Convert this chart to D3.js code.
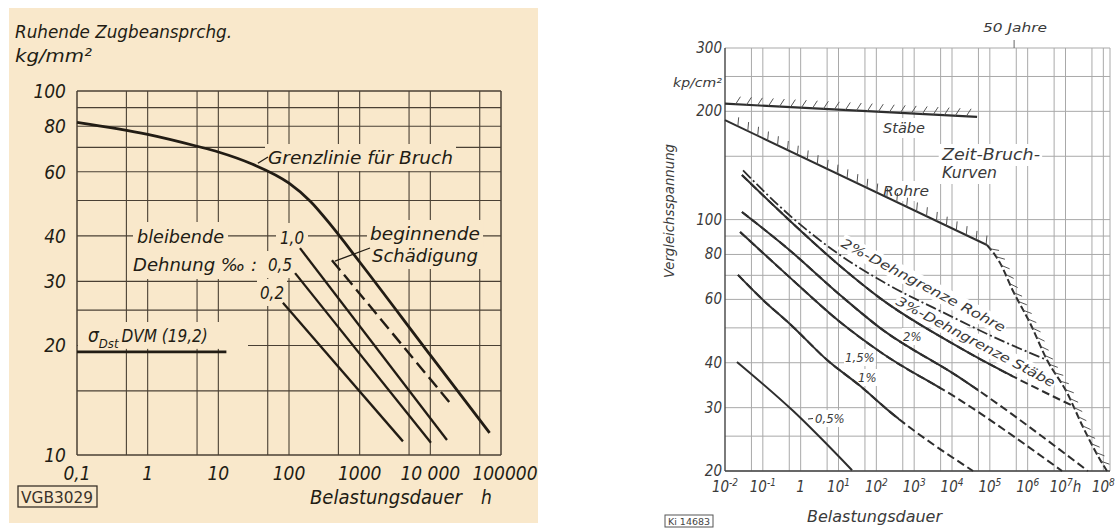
<!DOCTYPE html>
<html><head><meta charset="utf-8">
<script src="https://cdn.jsdelivr.net/npm/d3@7/dist/d3.min.js"></script>
<style>
html,body{margin:0;padding:0;background:#fff;}
svg{display:block;}
</style></head><body>
<svg id="chart" width="1119" height="529"></svg>
<script>
// ================= LEFT CHART DATA (VGB 3029) =================
const leftYTicks = [100, 80, 60, 40, 30, 20, 10];
const leftXTicks = [0.1, 1, 10, 100, 1000, 10000, 100000];
const leftXTickLabels = ["0,1", "1", "10", "100", "1000", "10 000", "100000"];
const leftXGrid = [0.1, 0.5, 1, 5, 10, 50, 100, 500, 1000, 5000, 10000, 50000, 100000];
const leftYGrid = [100, 90, 80, 70, 60, 50, 40, 30, 25, 20, 15, 10];
// Grenzlinie für Bruch
const bruchHours  = [0.1, 1, 5, 10, 30, 100, 200, 400, 1000, 10000, 69000];
const bruchStress = [82, 76, 70.5, 68, 63, 55.8, 49.8, 42.6, 33.9, 18.8, 11.5];
// bleibende Dehnung ‰ lines
const strainLabels = ["0,2", "0,5", "1,0"];
const strainHours  = [[82, 4100], [122, 10200], [143, 17200]];
const strainStress = [[26.2, 10.9], [31.6, 10.8], [37, 11.0]];
// beginnende Schädigung (dashed)
const damageHours  = [405, 20200];
const damageStress = [34.3, 13.7];
// σDst DVM (19,2)
const dvmHours  = [0.1, 13];
const dvmStress = [19.2, 19.2];

// ================= RIGHT CHART DATA =================
const rightYTicks = [300, 200, 100, 80, 60, 40, 30, 20];
const rightXTicks = [1e-2, 1e-1, 1, 10, 100, 1e3, 1e4, 1e5, 1e6, 1e7, 1e8];
const rightXTickBase = ["10", "10", "1", "10", "10", "10", "10", "10", "10", "10", "10"];
const rightXTickExp  = ["-2", "-1", "", "1", "2", "3", "4", "5", "6", "7", "8"];
const rightXTickSuffix = ["", "", "", "", "", "", "", "", "", "h", ""];
const rightXGrid = [5e-2, 1e-1, 5e-1, 1, 5, 10, 50, 100, 500, 1e3, 5e3, 1e4, 5e4, 1e5, 5e5, 1e6, 5e6, 1e7, 5e7, 1e8];
const rightYGrid = [300, 250, 200, 150, 100, 90, 80, 70, 60, 50, 40, 30, 25, 20];
const fiftyYears = 4.38e5;
// Zeit-Bruch-Kurven
const staebeHours  = [0.01, 4.6e4];
const staebeStress = [210, 193];
const rohreHours   = [0.01, 8.4e4];
const rohreStress  = [189, 85];
const zeitBruchHours  = [8.4e4, 1.86e5, 4.1e5, 1.15e6, 3.25e6, 1.1e7, 2.9e7, 8.2e7, 1.25e8];
const zeitBruchStress = [85, 75.8, 63.3, 51.6, 40.7, 33, 26.5, 21.5, 20];
// 2%-Dehngrenze Rohre (dash-dot)
const rohre2Hours  = [0.03, 0.435, 11, 125, 8900, 1.86e5, 3.25e6];
const rohre2Stress = [137, 104.3, 79.7, 67.9, 54.0, 46.3, 40.7];
// Dehngrenzen Stäbe
const strainNames = ["3%", "2%", "1,5%", "1%", "0,5%"];
const strainCurveHours = [
  [0.028, 0.435, 11, 125, 16300, 1.4e7],
  [0.028, 0.435, 11, 125, 16300, 3.9e7],
  [0.025, 0.435, 11, 125, 16300, 8.1e6],
  [0.022, 0.084, 0.63, 5, 37, 230, 36000],
  [0.0207, 0.627, 22.8]
];
const strainCurveStress = [
  [133, 101, 74.3, 60.5, 44.0, 30.5],
  [105, 83.4, 61.7, 50.0, 36.3, 20],
  [92.4, 70.2, 51.9, 42.9, 31.5, 20],
  [70.2, 60.9, 50.3, 40.7, 34.5, 29.2, 20],
  [40.2, 29.4, 20.1]
];
const strainDashFrom = [4e5, 5e4, 5000, 400, null];

// ================= DRAWING =================
const svg = d3.select('#chart');
const defs = svg.append('defs');
const gBg = svg.append('g'), gGrid = svg.append('g'), gMask = svg.append('g'),
      gCurve = svg.append('g'), gText = svg.append('g');

const LBG = '#f9e8cb', LINK = '#221c14', LGRID = '#4a4034';
const RINK = '#2e2e2e', RGRID = '#a9a9a9', RTXT = '#3a3a3a';
const FONT_L = "'DejaVu Sans Condensed','DejaVu Sans',sans-serif";
const FONT_R = "'Liberation Sans Narrow','DejaVu Sans Condensed',sans-serif";

function txt(o) {
  const t = gText.append('text').attr('x', o.x).attr('y', o.y)
    .attr('font-size', o.size || 16).attr('fill', o.fill || LINK)
    .attr('font-family', o.family || FONT_L)
    .attr('font-style', o.italic === false ? 'normal' : 'italic')
    .attr('text-anchor', o.anchor || 'start').text(o.text);
  if (o.len) t.attr('textLength', o.len).attr('lengthAdjust', 'spacingAndGlyphs');
  const tr = o.rotate != null ? `rotate(${o.rotate},${o.x},${o.y})` : null;
  if (tr) t.attr('transform', tr);
  if (o.mask) {
    const b = t.node().getBBox(), p = o.pad == null ? 2 : o.pad;
    const r = gMask.append('rect').attr('x', b.x - p).attr('y', b.y - p)
      .attr('width', b.width + 2 * p).attr('height', b.height + 2 * p).attr('fill', o.mask);
    if (tr) r.attr('transform', tr);
  }
  return t;
}

// ---------- LEFT ----------
gBg.append('rect').attr('x', 9).attr('y', 8).attr('width', 529).attr('height', 515).attr('fill', LBG);
const lx = d3.scaleLog().domain([0.1, 1e5]).range([77, 501]);
const ly = d3.scaleLog().domain([10, 100]).range([455, 91]);

gGrid.selectAll('line.lv').data(leftXGrid).join('line').attr('class', 'lv')
  .attr('x1', d => lx(d)).attr('x2', d => lx(d)).attr('y1', ly(100)).attr('y2', ly(10))
  .attr('stroke', LGRID).attr('stroke-width', d => (d === 0.1 || d === 1e5) ? 1.5 : 1.1);
gGrid.selectAll('line.lh').data(leftYGrid).join('line').attr('class', 'lh')
  .attr('x1', lx(0.1)).attr('x2', lx(1e5)).attr('y1', d => ly(d)).attr('y2', d => ly(d))
  .attr('stroke', LGRID).attr('stroke-width', d => (d === 10 || d === 100) ? 1.5 : 1.1);

const lLine = d3.line().x(d => lx(d[0])).y(d => ly(d[1]));
gCurve.append('path').datum(d3.zip(bruchHours, bruchStress))
  .attr('d', d3.line().x(d => lx(d[0])).y(d => ly(d[1])).curve(d3.curveMonotoneX)).attr('fill', 'none')
  .attr('stroke', LINK).attr('stroke-width', 2.8);
strainHours.forEach((h, i) => {
  gCurve.append('path').datum(d3.zip(h, strainStress[i])).attr('d', lLine)
    .attr('fill', 'none').attr('stroke', LINK).attr('stroke-width', 2.3);
});
gCurve.append('path').datum(d3.zip(damageHours, damageStress)).attr('d', lLine)
  .attr('fill', 'none').attr('stroke', LINK).attr('stroke-width', 2.4).attr('stroke-dasharray', '13 6');
gCurve.append('path').datum(d3.zip(dvmHours, dvmStress)).attr('d', lLine)
  .attr('fill', 'none').attr('stroke', LINK).attr('stroke-width', 2.8);

// left texts
txt({x: 15, y: 38, text: 'Ruhende Zugbeansprchg.', size: 18, len: 217});
txt({x: 15, y: 62, text: 'kg/mm²', size: 18, len: 77});
leftYTicks.forEach(v => txt({x: 66, y: ly(v) + 7, text: String(v), size: 19, anchor: 'end'}));
leftXTicks.forEach((v, i) => txt({x: lx(v) + (i === 6 ? 4 : 0), y: 480, text: leftXTickLabels[i], size: 19, anchor: 'middle'}));
txt({x: 310, y: 504, text: 'Belastungsdauer', size: 19, len: 152});
txt({x: 481, y: 504, text: 'h', size: 19});
txt({x: 268, y: 164, text: 'Grenzlinie für Bruch', size: 18, len: 185, mask: LBG, pad: 3});
txt({x: 137, y: 243, text: 'bleibende', size: 18, len: 87, mask: LBG, pad: 4});
txt({x: 133, y: 271, text: 'Dehnung ‰ :', size: 18, len: 124, mask: LBG, pad: 4});
txt({x: 280, y: 244, text: strainLabels[2], size: 18, len: 24, mask: LBG, pad: 4});
txt({x: 268, y: 271, text: strainLabels[1], size: 18, len: 24, mask: LBG, pad: 3});
txt({x: 260, y: 299, text: strainLabels[0], size: 18, len: 24, mask: LBG, pad: 3});
txt({x: 370, y: 240, text: 'beginnende', size: 18, len: 110, mask: LBG, pad: 3});
txt({x: 372, y: 262, text: 'Schädigung', size: 18, len: 106, mask: LBG, pad: 3});
// sigma label
const sg = txt({x: 88, y: 342, text: '', size: 18});
sg.append('tspan').text('σ').attr('font-size', 19);
sg.append('tspan').attr('dy', 6).attr('font-size', 13).text('Dst');
sg.append('tspan').attr('dy', -6).attr('font-size', 17).attr('dx', 3).text('DVM (19,2)');
{ const b = sg.node().getBBox();
  gMask.append('rect').attr('x', lx(0.1) + 1).attr('y', b.y - 2).attr('width', 247 - lx(0.1)).attr('height', ly(19.2) - b.y - 1).attr('fill', LBG); }
// leaders
gCurve.append('line').attr('x1', lx(34) + 2).attr('y1', ly(62.5) - 2).attr('x2', 268).attr('y2', 157).attr('stroke', LINK).attr('stroke-width', 1.3);
gCurve.append('line').attr('x1', lx(damageHours[0]) + 3).attr('y1', ly(damageStress[0]) + 1).attr('x2', 370).attr('y2', 248).attr('stroke', LINK).attr('stroke-width', 1.3);
// VGB box
gCurve.append('rect').attr('x', 18).attr('y', 486).attr('width', 79).attr('height', 21).attr('fill', 'none').attr('stroke', '#3a3228').attr('stroke-width', 1.3);
txt({x: 57, y: 503, text: 'VGB3029', size: 15, anchor: 'middle', italic: false, len: 72, fill: '#3a3228'});

// ---------- RIGHT ----------
const rx = d3.scaleLog().domain([1e-2, 1.5e8]).range([725, 1110]);
const ry = d3.scaleLog().domain([20, 300]).range([471, 48]);

gGrid.selectAll('line.rv').data(rightXGrid.concat([1.5e8])).join('line').attr('class', 'rv')
  .attr('x1', d => rx(d)).attr('x2', d => rx(d)).attr('y1', ry(300)).attr('y2', ry(20))
  .attr('stroke', RGRID).attr('stroke-width', 1);
gGrid.selectAll('line.rh').data(rightYGrid).join('line').attr('class', 'rh')
  .attr('x1', rx(1e-2)).attr('x2', rx(1.5e8)).attr('y1', d => ry(d)).attr('y2', d => ry(d))
  .attr('stroke', RGRID).attr('stroke-width', 1);
gGrid.append('line').attr('x1', rx(1e-2)).attr('x2', rx(1e-2)).attr('y1', ry(300)).attr('y2', ry(20)).attr('stroke', '#444').attr('stroke-width', 1.4);
gGrid.append('line').attr('x1', rx(1e-2)).attr('x2', rx(1.5e8)).attr('y1', ry(20)).attr('y2', ry(20)).attr('stroke', '#444').attr('stroke-width', 1.4);

const rLine = d3.line().x(d => rx(d[0])).y(d => ry(d[1]));
const rCurve = d3.line().x(d => rx(d[0])).y(d => ry(d[1])).curve(d3.curveMonotoneX);

function hatch(node, spacing, len, offsetDeg, from, to) {
  const L = node.getTotalLength();
  for (let s = from * L + spacing / 2; s < to * L; s += spacing) {
    const p = node.getPointAtLength(s), a = node.getPointAtLength(Math.max(0, s - 1.5)), b = node.getPointAtLength(Math.min(L, s + 1.5));
    const ang = Math.atan2(b.y - a.y, b.x - a.x) + offsetDeg * Math.PI / 180;
    gCurve.append('line').attr('x1', p.x).attr('y1', p.y)
      .attr('x2', p.x + len * Math.cos(ang)).attr('y2', p.y + len * Math.sin(ang))
      .attr('stroke', '#555').attr('stroke-width', 1);
  }
}

const stP = gCurve.append('path').datum(d3.zip(staebeHours, staebeStress)).attr('d', rLine)
  .attr('fill', 'none').attr('stroke', RINK).attr('stroke-width', 2.2);
hatch(stP.node(), 11, 9, -60, 0.02, 1);
const roP = gCurve.append('path').datum(d3.zip(rohreHours, rohreStress)).attr('d', rLine)
  .attr('fill', 'none').attr('stroke', RINK).attr('stroke-width', 2);
hatch(roP.node(), 11, 9, -110, 0.03, 1);
const zbP = gCurve.append('path').datum(d3.zip(zeitBruchHours, zeitBruchStress)).attr('d', rCurve)
  .attr('fill', 'none').attr('stroke', RINK).attr('stroke-width', 2).attr('stroke-dasharray', '7 3');
hatch(zbP.node(), 10, 9, -40, 0.0, 0.97);

gCurve.append('path').datum(d3.zip(rohre2Hours, rohre2Stress)).attr('d', rCurve)
  .attr('fill', 'none').attr('stroke', RINK).attr('stroke-width', 1.8).attr('stroke-dasharray', '11 3 2 3');

strainCurveHours.forEach((h, i) => {
  const data = d3.zip(h, strainCurveStress[i]);
  if (strainDashFrom[i] == null) {
    gCurve.append('path').datum(data).attr('d', rCurve).attr('fill', 'none').attr('stroke', RINK).attr('stroke-width', 2);
  } else {
    const id = 'clip' + i;
    defs.append('clipPath').attr('id', id).append('rect').attr('x', 0).attr('y', 0)
      .attr('width', rx(strainDashFrom[i])).attr('height', 529);
    gCurve.append('path').datum(data).attr('d', rCurve).attr('fill', 'none').attr('stroke', RINK)
      .attr('stroke-width', 2).attr('stroke-dasharray', '8 4');
    gCurve.append('path').datum(data).attr('d', rCurve).attr('fill', 'none').attr('stroke', RINK)
      .attr('stroke-width', 2).attr('clip-path', `url(#${id})`);
  }
});

// right texts
rightYTicks.forEach(v => txt({x: 722, y: ry(v) + 5, text: String(v), size: 15, anchor: 'end', family: FONT_R, fill: RTXT}));
txt({x: 722, y: 87, text: 'kp/cm²', size: 12, anchor: 'end', family: FONT_R, fill: RTXT, len: 49});
txt({x: 674, y: 211, text: 'Vergleichsspannung', size: 14, anchor: 'middle', family: FONT_R, fill: RTXT, rotate: -90, len: 134});
rightXTicks.forEach((v, i) => {
  const t = txt({x: rx(v), y: 492, text: '', size: 15, anchor: 'middle', family: FONT_R, fill: RTXT});
  t.append('tspan').text(rightXTickBase[i]);
  if (rightXTickExp[i]) t.append('tspan').attr('dy', -6).attr('font-size', 10).text(rightXTickExp[i]);
  if (rightXTickSuffix[i]) t.append('tspan').attr('dy', 6).text(rightXTickSuffix[i]);
});
txt({x: 807, y: 522, text: 'Belastungsdauer', size: 15, family: FONT_R, fill: RTXT, len: 135});
txt({x: 983, y: 32, text: '50 Jahre', size: 13, family: FONT_R, fill: RTXT, len: 64});
gCurve.append('line').attr('x1', rx(fiftyYears)).attr('x2', rx(fiftyYears)).attr('y1', 40).attr('y2', ry(300)).attr('stroke', '#666').attr('stroke-width', 1);
txt({x: 883, y: 133, text: 'Stäbe', size: 14, family: FONT_R, fill: RTXT, len: 42, mask: '#fff'});
txt({x: 883, y: 196, text: 'Rohre', size: 14, family: FONT_R, fill: RTXT, len: 46, mask: '#fff'});
txt({x: 942, y: 160, text: 'Zeit-Bruch-', size: 15, family: FONT_R, fill: RTXT, len: 98, mask: '#fff'});
txt({x: 942, y: 178, text: 'Kurven', size: 15, family: FONT_R, fill: RTXT, len: 55, mask: '#fff'});
txt({x: 840, y: 246, text: '2%-Dehngrenze Rohre', size: 13, family: FONT_R, fill: RTXT, len: 184, rotate: 28, mask: '#fff', pad: 1});
txt({x: 895, y: 304, text: '3%-Dehngrenze Stäbe', size: 13, family: FONT_R, fill: RTXT, len: 178, rotate: 28, mask: '#fff', pad: 1});
txt({x: 903, y: 341, text: strainNames[1], size: 13, family: FONT_R, fill: RTXT, mask: '#fff', pad: 1});
txt({x: 845, y: 362, text: strainNames[2], size: 13, family: FONT_R, fill: RTXT, mask: '#fff', pad: 1});
txt({x: 858, y: 382, text: strainNames[3], size: 13, family: FONT_R, fill: RTXT, mask: '#fff', pad: 1});
txt({x: 815, y: 423, text: strainNames[4], size: 13, family: FONT_R, fill: RTXT, mask: '#fff', pad: 1});
gCurve.append('line').attr('x1', 808).attr('y1', 419).attr('x2', 813).attr('y2', 418.5).attr('stroke', RINK).attr('stroke-width', 1);
gCurve.append('rect').attr('x', 665).attr('y', 515).attr('width', 48).attr('height', 12).attr('fill', 'none').attr('stroke', '#555').attr('stroke-width', 1);
txt({x: 689, y: 524.5, text: 'Ki 14683', size: 8, anchor: 'middle', italic: false, family: FONT_R, fill: '#444', len: 42});
</script>
</body></html>
